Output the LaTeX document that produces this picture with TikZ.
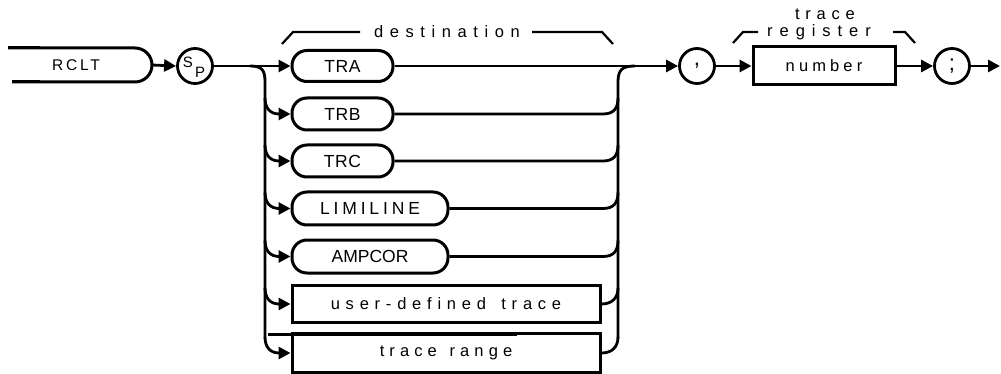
\documentclass[tikz,border=0pt]{standalone}
\usepackage{fontspec}
\newfontfamily\hpfont{Liberation Sans}
\usetikzlibrary{arrows.meta}
\newcommand\hptxt[3]{{\fontsize{#1}{#1}\selectfont\hpfont\addfontfeature{LetterSpace=#2}#3}}
\begin{document}
\begin{tikzpicture}[x=1pt,y=-1pt,
  wire/.style={line width=2.8pt},
  conn/.style={line width=2.8pt,-{Triangle[length=12pt,width=12pt]}},
  thinline/.style={line width=2.2pt},
  pill/.style={draw,line width=3pt,rounded corners=15pt,inner sep=0pt},
  rectbox/.style={draw,line width=3pt,inner sep=0pt},
  circ/.style={draw,circle,line width=2.8pt,minimum size=35pt,inner sep=0pt},
  lbl/.style={inner sep=0pt}]
\useasboundingbox (0,0) rectangle (1001,374);

% RCLT keyword
\draw[line width=3pt,rounded corners=17pt] (8,48) -- (152,48) -- (152,82) -- (12,82);
\draw[line width=3pt] (8,48) -- (40,48);
\draw[line width=3pt] (12,82) -- (40,82);
\node[lbl] (rclt) at (76,65) {\hptxt{15.5}{18}{RCLT}};
\coordinate (rcltE) at (152,65);

% SP circle
\node[circ] (sp) at (195,66) {};
\node[lbl] (spS) at (188,62) {\hptxt{15}{0}{S}};
\node[lbl] (spP) at (200,72) {\hptxt{15}{0}{P}};

% destination boxes
\node[pill,minimum width=101pt,minimum height=31pt] (tra) at (342.5,66) {\hptxt{17.5}{3}{TRA}};
\node[pill,minimum width=101pt,minimum height=32pt] (trb) at (342.5,114) {\hptxt{17.5}{3}{TRB}};
\node[pill,minimum width=101pt,minimum height=32pt] (trc) at (342.5,161) {\hptxt{17.5}{3}{TRC}};
\node[pill,minimum width=156pt,minimum height=33pt] (limi) at (370,208.5) {\hptxt{17.5}{22}{LIMILINE}};
\node[pill,minimum width=156pt,minimum height=33pt] (amp) at (370,256.5) {\hptxt{17.5}{0}{AMPCOR}};
\node[rectbox,minimum width=308pt,minimum height=37pt] (udt) at (446,304) {\hptxt{16.5}{35}{user-defined\hspace{5pt} trace}};
\node[rectbox,minimum width=308pt,minimum height=39pt] (trange) at (446,353) {\hptxt{16.5}{31}{trace\hspace{3pt} range}};
\draw[line width=3pt] (268,334) -- (517,334);

% destination label and bracket
\node[lbl,anchor=base] (dest) at (447,38) {\hptxt{16.5}{40}{destination}};
\draw[thinline] (282,44) -- (293,32) -- (360,32);
\draw[thinline] (532,32) -- (602,32) -- (613,44);

% comma, number, semicolon
\node[circ] (comma) at (697,66) {\hptxt{22}{0}{,}};
\node[rectbox,minimum width=142pt,minimum height=38pt] (num) at (824,66) {\hptxt{16.5}{25}{number}};
\node[circ] (semi) at (952,66) {\hptxt{22}{0}{;}};
\coordinate (endpt) at (1000,66);

% trace register label and bracket
\node[lbl,anchor=base] (trl1) at (825,20) {\hptxt{16.5}{35}{trace}};
\node[lbl,anchor=base] (trl2) at (819,37) {\hptxt{16.5}{42}{register}};
\draw[thinline] (733,43) -- (743,32) -- (758,32);
\draw[thinline] (893,32) -- (905,32) -- (915,43);

% main line
\draw[conn] (rcltE) -- (sp.west);
\draw[conn] (sp.east) -- (tra.west);
\draw[conn] (tra.east) -- (comma.west);
\draw[conn] (comma.east) -- (num.west);
\draw[conn] (num.east) -- (semi.west);
\draw[conn] (semi.east) -- (endpt);

% left rail
\draw[wire] (250,66) .. controls (262,66) and (265,70) .. (265,82) -- (265,338);
\draw[conn] (265,98) .. controls (265,108) and (270,114) .. (trb.west);
\draw[conn] (265,145) .. controls (265,155) and (270,161) .. (trc.west);
\draw[conn] (265,192.5) .. controls (265,202.5) and (270,208.5) .. (limi.west);
\draw[conn] (265,240.5) .. controls (265,250.5) and (270,256.5) .. (amp.west);
\draw[conn] (265,288) .. controls (265,298) and (270,304) .. (udt.west);
\draw[conn] (265,337) .. controls (265,347) and (270,353) .. (trange.west);

% right rail
\draw[wire] (618,338) -- (618,82) .. controls (618,70) and (622,66) .. (635,66);
\draw[wire] (trb.east) -- (603,114) .. controls (614,114) and (618,108) .. (618,98);
\draw[wire] (trc.east) -- (603,161) .. controls (614,161) and (618,155) .. (618,145);
\draw[wire] (limi.east) -- (603,208.5) .. controls (614,208.5) and (618,202.5) .. (618,192.5);
\draw[wire] (amp.east) -- (603,256.5) .. controls (614,256.5) and (618,250.5) .. (618,240.5);
\draw[wire] (udt.east) .. controls (612,304) and (618,298) .. (618,288);
\draw[wire] (trange.east) .. controls (612,353) and (618,347) .. (618,337);
\end{tikzpicture}
\end{document}
